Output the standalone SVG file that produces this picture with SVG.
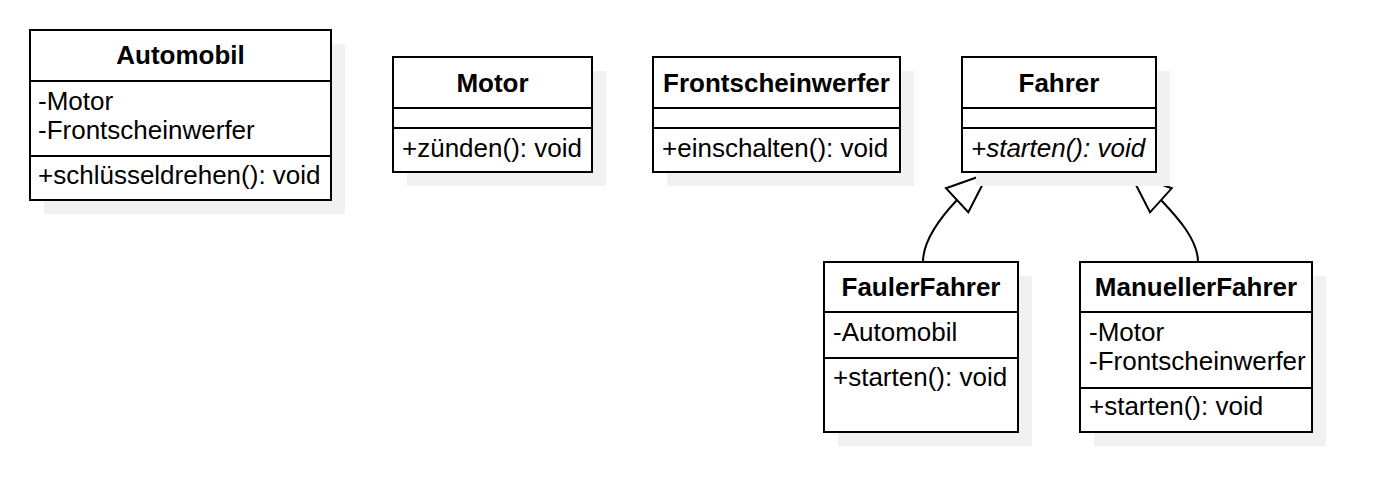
<svg xmlns="http://www.w3.org/2000/svg" width="1382" height="502" viewBox="0 0 1382 502">
<style>
.shadow{fill:#f1f1f1;stroke:none}
.box{fill:#ffffff;stroke:#000000;stroke-width:2}
.div{stroke:#000000;stroke-width:2}
text{font-family:"Liberation Sans",Arial,Helvetica,sans-serif;font-size:26px;fill:#000000}
.title{font-weight:bold;text-anchor:middle}
.it{font-style:italic}
.edge{fill:none;stroke:#000000;stroke-width:2}
.head{fill:#ffffff;stroke:#000000;stroke-width:2;stroke-linejoin:miter}
</style>
<rect width="1382" height="502" fill="#ffffff"/>
<g id="connectors">
<path class="edge" d="M 923 262 C 923 240, 940 218, 957 200"/>
<polygon class="head" points="988.3,173.3 946,188.3 968.3,212.3"/>
<path class="edge" d="M 1198 262 C 1198 240, 1178 218, 1161 200"/>
<polygon class="head" points="1130,173.3 1171.7,188.3 1150,212.3"/>
</g>
<g id="Automobil">
<rect class="shadow" x="44" y="44" width="301" height="170"/>
<rect class="box" x="30" y="30" width="301" height="170"/>
<line class="div" x1="30" y1="81" x2="331" y2="81"/>
<line class="div" x1="30" y1="156" x2="331" y2="156"/>
<text class="title" x="180.5" y="64">Automobil</text>
<text x="38" y="110">-Motor</text>
<text x="38" y="139">-Frontscheinwerfer</text>
<text x="38" y="184">+schlüsseldrehen(): void</text>
</g>
<g id="Motor">
<rect class="shadow" x="407" y="71" width="199" height="115"/>
<rect class="box" x="393" y="57" width="199" height="115"/>
<line class="div" x1="393" y1="108" x2="592" y2="108"/>
<line class="div" x1="393" y1="128" x2="592" y2="128"/>
<text class="title" x="492.5" y="91.5">Motor</text>
<text x="402" y="157">+zünden(): void</text>
</g>
<g id="Frontscheinwerfer">
<rect class="shadow" x="667" y="71" width="247" height="115"/>
<rect class="box" x="653" y="57" width="247" height="115"/>
<line class="div" x1="653" y1="108" x2="900" y2="108"/>
<line class="div" x1="653" y1="128" x2="900" y2="128"/>
<text class="title" x="776.5" y="91.5">Frontscheinwerfer</text>
<text x="662" y="157">+einschalten(): void</text>
</g>
<g id="Fahrer">
<rect class="shadow" x="976" y="71" width="194" height="115"/>
<rect class="box" x="962" y="57" width="194" height="115"/>
<line class="div" x1="962" y1="108" x2="1156" y2="108"/>
<line class="div" x1="962" y1="128" x2="1156" y2="128"/>
<text class="title" x="1059" y="91.5">Fahrer</text>
<text class="it" x="971" y="157">+starten(): void</text>
</g>
<g id="FaulerFahrer">
<rect class="shadow" x="838" y="276" width="194" height="170"/>
<rect class="box" x="824" y="262" width="194" height="170"/>
<line class="div" x1="824" y1="312" x2="1018" y2="312"/>
<line class="div" x1="824" y1="358" x2="1018" y2="358"/>
<text class="title" x="921" y="296">FaulerFahrer</text>
<text x="833" y="341">-Automobil</text>
<text x="833" y="386">+starten(): void</text>
</g>
<g id="ManuellerFahrer">
<rect class="shadow" x="1094" y="276" width="232" height="170"/>
<rect class="box" x="1080" y="262" width="232" height="170"/>
<line class="div" x1="1080" y1="312" x2="1312" y2="312"/>
<line class="div" x1="1080" y1="388" x2="1312" y2="388"/>
<text class="title" x="1196" y="296">ManuellerFahrer</text>
<text x="1089" y="341">-Motor</text>
<text x="1089" y="370">-Frontscheinwerfer</text>
<text x="1089" y="415">+starten(): void</text>
</g>
</svg>
